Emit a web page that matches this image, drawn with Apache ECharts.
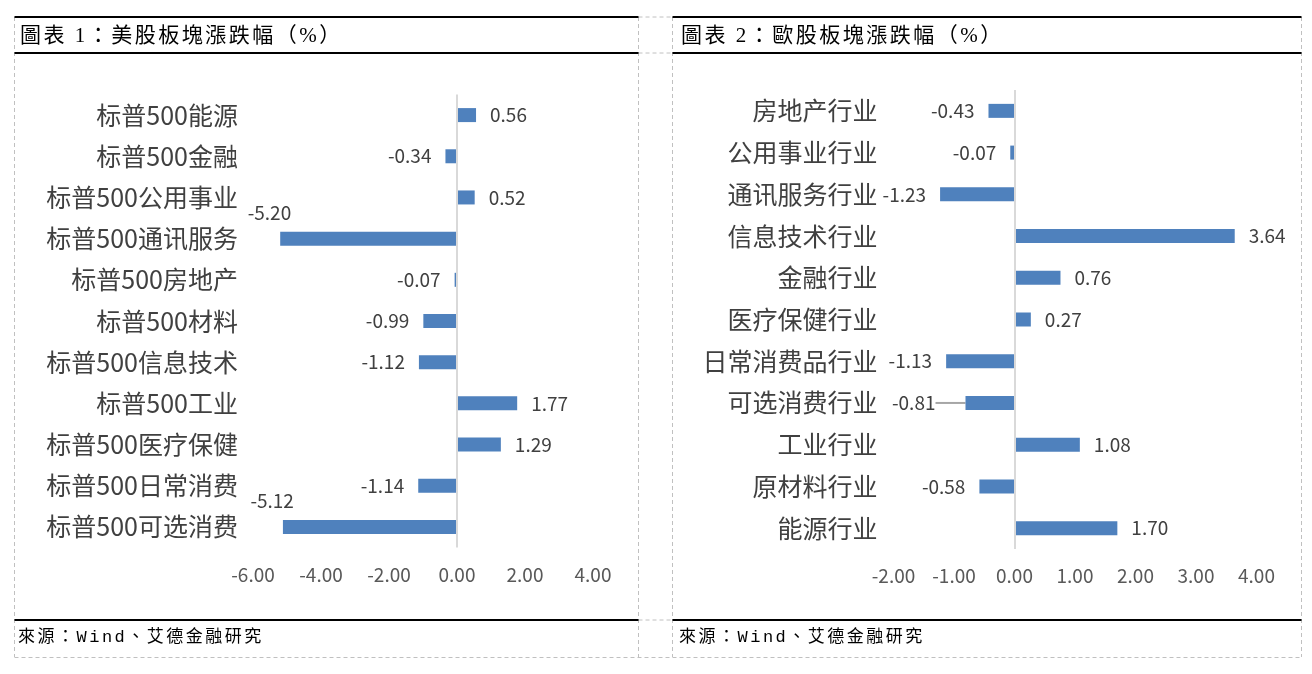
<!DOCTYPE html>
<html>
<head>
<meta charset="utf-8">
<script src="https://cdn.jsdelivr.net/npm/echarts@6/dist/echarts.min.js"></script>
<style>
    html, body { margin: 0; padding: 0; background: #fff; }
    #wrap { position: relative; width: 1312px; height: 674px; }
    #main { width: 1312px; height: 674px; }
    .cap {
        position: absolute;
        font-family: "Liberation Serif", "Noto Sans CJK TC", serif;
        color: #000;
        white-space: nowrap;
    }
    .title { font-size: 21px; letter-spacing: 2.5px; top: 21px; line-height: 28px; }
    .src { font-family: "Liberation Mono", "Noto Sans CJK TC", monospace; font-size: 17px; letter-spacing: 2.5px; top: 626px; line-height: 24px; }
</style>
</head>
<body>
<div id="wrap">
    <div id="main"></div>
    <div class="cap title" id="t1" style="left: 20px;"></div>
    <div class="cap title" id="t2" style="left: 681px;"></div>
    <div class="cap src" id="s1" style="left: 18px;"></div>
    <div class="cap src" id="s2" style="left: 679px;"></div>
</div>
<script>
// 圖表1：美股板塊（由上至下）
const usCats = ['标普500能源', '标普500金融', '标普500公用事业', '标普500通讯服务', '标普500房地产', '标普500材料',
    '标普500信息技术', '标普500工业', '标普500医疗保健', '标普500日常消费', '标普500可选消费'];
const usVals = [0.56, -0.34, 0.52, -5.20, -0.07, -0.99, -1.12, 1.77, 1.29, -1.14, -5.12];
const usTicks = [-6, 4, 2];

// 圖表2：歐股板塊
const euCats = ['房地产行业', '公用事业行业', '通讯服务行业', '信息技术行业', '金融行业', '医疗保健行业',
    '日常消费品行业', '可选消费行业', '工业行业', '原材料行业', '能源行业'];
const euVals = [-0.43, -0.07, -1.23, 3.64, 0.76, 0.27, -1.13, -0.81, 1.08, -0.58, 1.70];
const euTicks = [-2, 4, 1];

const titles = ['圖表 1：美股板塊漲跌幅（%）', '圖表 2：歐股板塊漲跌幅（%）'];
const source = '來源：Wind、艾德金融研究';

document.getElementById('t1').textContent = titles[0];
document.getElementById('t2').textContent = titles[1];
document.getElementById('s1').textContent = source;
document.getElementById('s2').textContent = source;

const BLUE = '#4f81bd';
const CJK = '"Noto Sans CJK SC", "Noto Sans", sans-serif';
// 可选消费行业 的標籤被拉開，帶引導線
const euLeader = 7;

const chart = echarts.init(document.getElementById('main'), null, { renderer: 'canvas' });

const buildData = (idx, vals) => vals.map((v, i) => ({
    value: v,
    label: { position: v >= 0 ? 'right' : 'left' },
    labelLine: { show: idx === 1 && i === euLeader }
}));

const barSeries = (idx, vals) => ({
    type: 'bar',
    xAxisIndex: idx,
    yAxisIndex: idx,
    data: buildData(idx, vals),
    barWidth: 14,
    itemStyle: { color: BLUE },
    label: {
        show: true,
        distance: 14,
        fontSize: 19,
        fontFamily: CJK,
        color: '#404040',
        formatter: p => p.value.toFixed(2)
    },
    labelLine: { show: false, lineStyle: { color: '#a6a6a6', width: 2 } },
    labelLayout: (p) => {
        const r = p.labelRect;
        if (idx === 1 && p.dataIndex === euLeader) {
            return { x: r.x - 16, y: r.y };
        }
        // 大幅下跌的標籤放在柱子左上方
        if (vals[p.dataIndex] < -3) {
            return { x: r.x + 25, y: r.y - 26 };
        }
        return {};
    },
    markLine: {
        silent: true,
        symbol: 'none',
        animation: false,
        label: { show: false },
        lineStyle: { color: '#d9d9d9', width: 2, type: 'solid' },
        data: [{ xAxis: 0 }]
    },
    animation: false
});

const xAxisOf = (idx, ticks, margin) => ({
    type: 'value',
    gridIndex: idx,
    min: ticks[0],
    max: ticks[1],
    interval: ticks[2],
    axisLine: { show: false },
    axisTick: { show: false },
    splitLine: { show: false },
    axisLabel: {
        margin: margin,
        fontSize: 19,
        fontFamily: CJK,
        color: '#595959',
        formatter: v => v.toFixed(2)
    }
});

const yAxisOf = (idx, cats, margin) => ({
    type: 'category',
    gridIndex: idx,
    data: cats,
    inverse: true,
    axisLine: { show: false },
    axisTick: { show: false },
    axisLabel: { margin: margin, fontSize: 25, fontFamily: CJK, color: '#404040' }
});

// 表格框線
const dash = { stroke: '#c0c0c0', lineWidth: 1, lineDash: [4, 3] };
const solid = { stroke: '#000', lineWidth: 2 };
const line = (x1, y1, x2, y2, style) => ({ type: 'line', shape: { x1, y1, x2, y2 }, style, silent: true });

const frame = [];
[14.5, 638.5, 672.5, 1301.5].forEach(x => frame.push(line(x, 17, x, 657, dash)));
frame.push(line(14.5, 657.5, 1301.5, 657.5, dash));
[17, 53, 620].forEach(y => {
    frame.push(line(638.5, y, 672.5, y, dash));
    frame.push(line(14.5, y, 638.5, y, solid));
    frame.push(line(672.5, y, 1301.5, y, solid));
});

chart.setOption({
    animation: false,
    grid: [
        { left: 253, width: 340, top: 94.5, height: 453 },
        { left: 893.5, width: 363, top: 90, height: 459 }
    ],
    xAxis: [xAxisOf(0, usTicks, 18), xAxisOf(1, euTicks, 17)],
    yAxis: [yAxisOf(0, usCats, 15), yAxisOf(1, euCats, 16)],
    series: [barSeries(0, usVals), barSeries(1, euVals)],
    graphic: frame
});
</script>
</body>
</html>
